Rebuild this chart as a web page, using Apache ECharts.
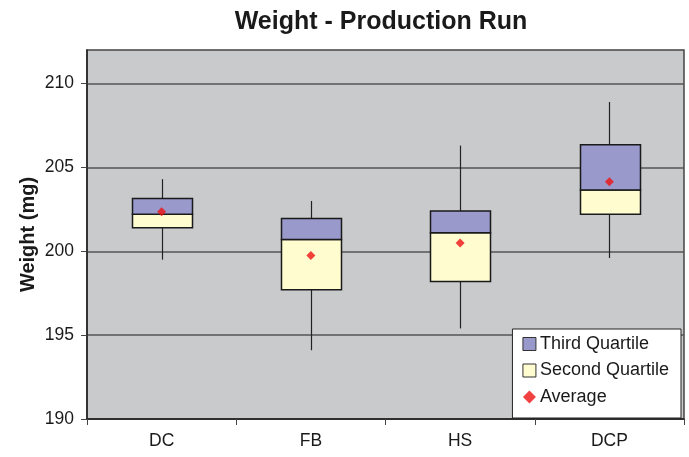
<!DOCTYPE html>
<html>
<head>
<meta charset="utf-8">
<script src="https://cdn.jsdelivr.net/npm/echarts@6/dist/echarts.min.js"></script>
<style>html,body{margin:0;padding:0;background:#fff}#c{width:689px;height:457px}</style>
</head>
<body>
<div id="c"></div>
<script>
const categories = ['DC', 'FB', 'HS', 'DCP'];
const minVals    = [199.5, 194.1, 195.4, 199.6];
const q1Vals     = [201.4, 197.7, 198.2, 202.2];
const medianVals = [202.2, 200.7, 201.1, 203.65];
const q3Vals     = [203.15, 201.95, 202.4, 206.35];
const maxVals    = [204.3, 203.0, 206.3, 208.9];
const avgVals    = [202.35, 199.75, 200.5, 204.15];
const yTicks     = [190, 195, 200, 205, 210];

const FONT = 'Liberation Sans, Arial, sans-serif';
const chart = echarts.init(document.getElementById('c'), null, {renderer: 'canvas'});

function boxRender(lowArr, highArr, fill) {
  return function (params, api) {
    const i = params.dataIndex;
    const lo = api.coord([i, lowArr[i]]);
    const hi = api.coord([i, highArr[i]]);
    const bw = api.size([1, 0])[0] * 0.4;
    return {
      type: 'rect',
      shape: {x: Math.round(lo[0] - bw / 2) + 0.5, y: hi[1], width: Math.round(bw), height: lo[1] - hi[1]},
      style: {fill: fill, stroke: '#1a1a1a', lineWidth: 1.5}
    };
  };
}

const option = {
  animation: false,
  title: {
    text: 'Weight - Production Run',
    left: 376, top: 5, textAlign: 'center',
    textStyle: {fontFamily: FONT, fontSize: 25, fontWeight: 'bold', color: '#1a1a1a'}
  },
  legend: {
    orient: 'vertical',
    right: 8, bottom: 39,
    backgroundColor: '#fff',
    borderColor: '#222', borderWidth: 1,
    padding: [6, 12, 12, 10],
    itemGap: 8.5,
    itemWidth: 13, itemHeight: 13,
    textStyle: {fontFamily: FONT, fontSize: 18, color: '#1a1a1a', padding: [0, 0, 0, -1]},
    data: [
      {name: 'Third Quartile', icon: 'rect', itemStyle: {color: '#9999CC', borderColor: '#333', borderWidth: 1}},
      {name: 'Second Quartile', icon: 'rect', itemStyle: {color: '#FFFCCF', borderColor: '#333', borderWidth: 1}},
      {name: 'Average', icon: 'diamond', itemWidth: 8, itemHeight: 8, itemStyle: {color: '#EE1111'}}
    ]
  },
  grid: {left: 87, right: 5, top: 50, bottom: 38, show: true, backgroundColor: '#C9CACC', borderColor: '#444', borderWidth: 1.5},
  xAxis: {
    type: 'category',
    data: categories,
    boundaryGap: true,
    axisLine: {show: true, lineStyle: {color: '#222', width: 1.5}},
    axisTick: {show: true, length: 6, lineStyle: {color: '#444'}},
    axisLabel: {fontFamily: FONT, fontSize: 17.5, color: '#1a1a1a', margin: 13},
    splitLine: {show: false}
  },
  yAxis: {
    type: 'value',
    min: 190, max: 212, interval: 5,
    name: 'Weight (mg)', nameLocation: 'middle', nameGap: 49, nameMoveOverlap: false,
    nameTextStyle: {fontFamily: FONT, fontSize: 20, fontWeight: 'bold', color: '#1a1a1a'},
    axisLine: {show: true, lineStyle: {color: '#222', width: 1.5}},
    axisTick: {show: true, length: 6, lineStyle: {color: '#444'}, customValues: yTicks},
    axisLabel: {fontFamily: FONT, fontSize: 17.5, color: '#1a1a1a', margin: 13, customValues: yTicks},
    splitLine: {show: true, lineStyle: {color: '#555', width: 1.5}}
  },
  series: [
    {
      name: 'whiskers', type: 'custom', z: 2,
      data: categories.map((c, i) => i),
      renderItem: function (params, api) {
        const i = params.dataIndex;
        const a = api.coord([i, minVals[i]]);
        const b = api.coord([i, maxVals[i]]);
        const x = Math.round(a[0]) + 0.5;
        return {type: 'line', shape: {x1: x, y1: a[1], x2: x, y2: b[1]}, style: {stroke: '#222', lineWidth: 1.2}};
      }
    },
    {
      name: 'Second Quartile', type: 'custom', z: 3,
      itemStyle: {color: '#FFFCCF'},
      data: categories.map((c, i) => i),
      renderItem: boxRender(q1Vals, medianVals, '#FFFCCF')
    },
    {
      name: 'Third Quartile', type: 'custom', z: 3,
      itemStyle: {color: '#9999CC'},
      data: categories.map((c, i) => i),
      renderItem: boxRender(medianVals, q3Vals, '#9999CC')
    },
    {
      name: 'Average', type: 'scatter', z: 5,
      symbol: 'diamond', symbolSize: 9,
      itemStyle: {color: '#EE1111'},
      data: categories.map((c, i) => [c, avgVals[i]])
    }
  ]
};
chart.setOption(option);
</script>
</body>
</html>
